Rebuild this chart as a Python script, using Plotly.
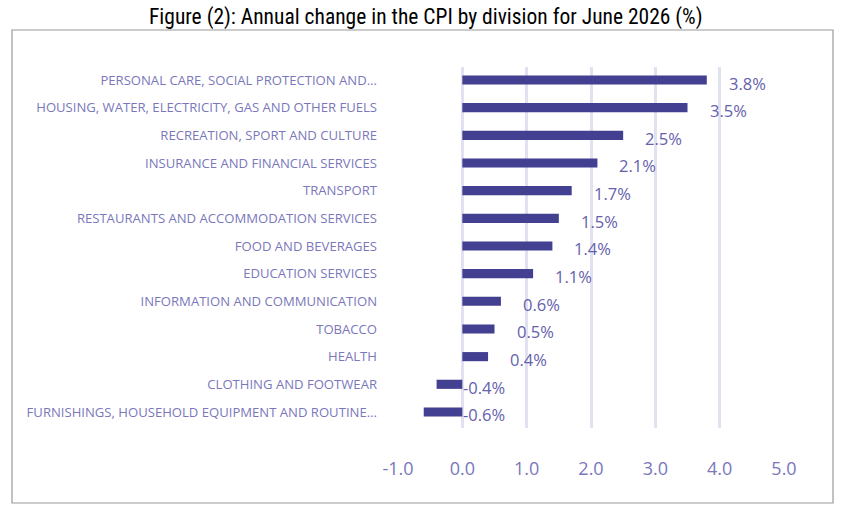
import plotly.graph_objects as go

categories = [
    "PERSONAL CARE, SOCIAL PROTECTION AND...",
    "HOUSING, WATER, ELECTRICITY, GAS AND OTHER FUELS",
    "RECREATION, SPORT AND CULTURE",
    "INSURANCE AND FINANCIAL SERVICES",
    "TRANSPORT",
    "RESTAURANTS AND ACCOMMODATION SERVICES",
    "FOOD AND BEVERAGES",
    "EDUCATION SERVICES",
    "INFORMATION AND COMMUNICATION",
    "TOBACCO",
    "HEALTH",
    "CLOTHING AND FOOTWEAR",
    "FURNISHINGS, HOUSEHOLD EQUIPMENT AND ROUTINE...",
]
values = [3.8, 3.5, 2.5, 2.1, 1.7, 1.5, 1.4, 1.1, 0.6, 0.5, 0.4, -0.4, -0.6]
tick_vals = [-1, 0, 1, 2, 3, 4, 5]
tick_text = ["-1.0", "0.0", "1.0", "2.0", "3.0", "4.0", "5.0"]
title_text = "Figure (2): Annual change in the CPI by division for June 2026 (%)"

W, H = 850, 515
PL, PR, PT, PB = 398, 784, 67, 428

bar_color = "#433f91"
label_color = "#6461ab"
cat_color = "#7a77bb"
grid_color = "#e1e1f1"


def px_x(p):
    return (p - PL) / (PR - PL)


def px_y(p):
    return (PB - p) / (PB - PT)


fig = go.Figure()
fig.add_trace(go.Bar(
    x=values, y=categories, orientation="h",
    marker=dict(color=bar_color, line=dict(width=0)),
    width=0.33, hoverinfo="skip",
))

annotations = []
for c, v in zip(categories, values):
    annotations.append(dict(
        x=max(v, 0), y=c, xref="x", yref="y",
        text=f"{v:.1f}%", showarrow=False,
        xanchor="left", yanchor="middle",
        xshift=20 if v > 0 else -1, yshift=-3,
        font=dict(family="Open Sans, Noto Sans, sans-serif", size=16.5, color=label_color),
    ))

annotations.append(dict(
    x=px_x(426), y=px_y(17), xref="paper", yref="paper",
    text=title_text, showarrow=False, xanchor="center", yanchor="middle",
    font=dict(family="Roboto Condensed, Liberation Sans Narrow, Arial Narrow, sans-serif",
              size=21.5, color="#000000"),
))

shapes = [dict(
    type="rect", xref="paper", yref="paper",
    x0=px_x(12), x1=px_x(833), y0=px_y(503), y1=px_y(30),
    line=dict(color="#9a9a9a", width=1.2), fillcolor="rgba(0,0,0,0)", layer="below",
)]

fig.update_layout(
    width=W, height=H,
    margin=dict(l=PL, r=W - PR, t=PT, b=H - PB),
    paper_bgcolor="white", plot_bgcolor="white",
    showlegend=False,
    annotations=annotations,
    shapes=shapes,
    xaxis=dict(
        range=[-1, 5], tickvals=tick_vals, ticktext=tick_text,
        showgrid=True, gridcolor=grid_color, gridwidth=2.5,
        zeroline=False, showline=False, ticks="",
        ticklabelstandoff=28,
        tickfont=dict(family="Open Sans, Noto Sans, sans-serif", size=18, color=cat_color),
        fixedrange=True,
    ),
    yaxis=dict(
        categoryorder="array", categoryarray=categories,
        range=[12.58, -0.47],
        showgrid=False, zeroline=False, showline=False, ticks="",
        ticklabelstandoff=20,
        tickfont=dict(family="Open Sans, Noto Sans, sans-serif", size=13.1, color=cat_color),
        fixedrange=True,
    ),
)

fig.write_html("out.html")
